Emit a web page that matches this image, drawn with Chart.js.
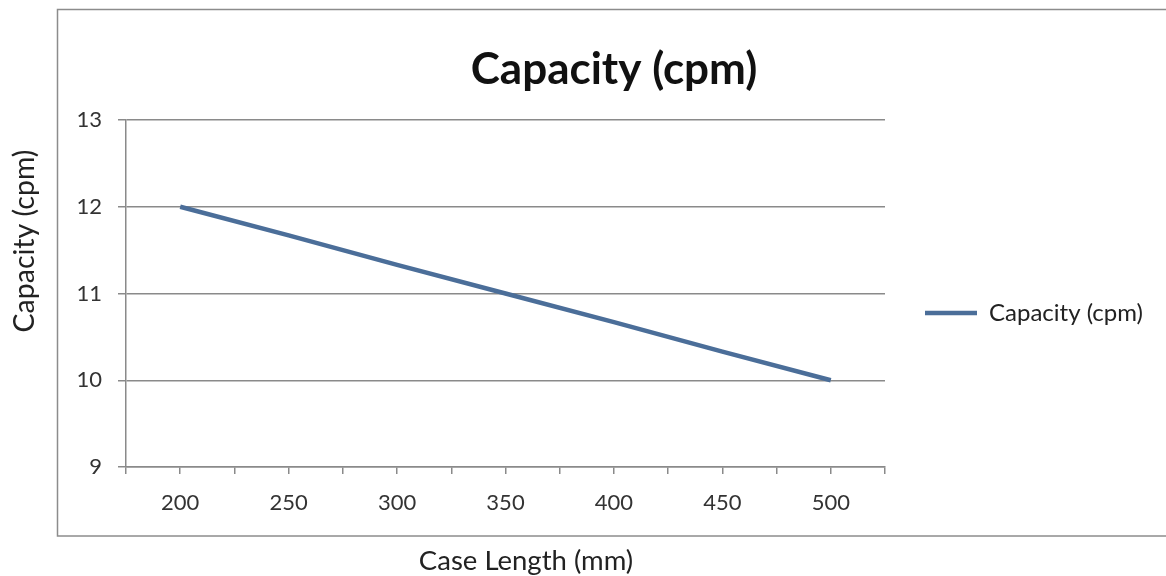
<!DOCTYPE html>
<html>
<head>
<meta charset="utf-8">
<script src="https://cdn.jsdelivr.net/npm/chart.js@4/dist/chart.umd.min.js"></script>
<style>
  html, body { margin: 0; padding: 0; background: #ffffff; }
  #wrap { position: relative; width: 1166px; height: 576px; }
</style>
</head>
<body>
<div id="wrap"><canvas id="c"></canvas></div>
<script>
// ---- data ----
const caseLengths = [200, 250, 300, 350, 400, 450, 500];
const capacity = [12, 11.67, 11.33, 11, 10.67, 10.33, 10];
const seriesName = 'Capacity (cpm)';
const chartTitle = 'Capacity (cpm)';
const xAxisTitle = 'Case Length (mm)';
const yAxisTitle = 'Capacity (cpm)';
const yTicks = [9, 10, 11, 12, 13];
const xLabelStep = 50;

const FONT = 'Lato, "Open Sans", sans-serif';
const GRID = '#8a8a8a';
const LINE = '#4b6e99';
const legendFontSize = 24;
const legendPad = 40;
const legendLineW = 52;

// measure legend text to place the plot's right edge
const mctx = document.createElement('canvas').getContext('2d');
mctx.font = legendFontSize + 'px ' + FONT;
const legendTextW = mctx.measureText(seriesName).width;
const legendW = legendPad + legendLineW + legendFontSize / 2 + legendTextW + 10;
const plotRight = 885;
const padRight = Math.max(0, 1166 - plotRight - legendW);

const framePlugin = {
  id: 'excelFrame',
  beforeDraw(chart) {
    const ctx = chart.ctx;
    ctx.save();
    ctx.fillStyle = '#ffffff';
    ctx.fillRect(0, 0, chart.width, chart.height);
    ctx.strokeStyle = '#8c8c8c';
    ctx.lineWidth = 1.5;
    ctx.strokeRect(57.5, 9.5, chart.width, 526.5);
    ctx.restore();
  },
  afterDraw(chart) {
    const ctx = chart.ctx;
    ctx.save();
    // main title
    ctx.fillStyle = '#111111';
    ctx.font = 'bold 44px ' + FONT;
    ctx.textAlign = 'center';
    ctx.textBaseline = 'alphabetic';
    ctx.fillText(chartTitle, 614, 84);
    // x axis title
    ctx.fillStyle = '#222222';
    ctx.font = '27.5px ' + FONT;
    ctx.fillText(xAxisTitle, 526, 570);
    // y axis title
    ctx.font = '28.5px ' + FONT;
    ctx.translate(34, 241);
    ctx.rotate(-Math.PI / 2);
    ctx.fillText(yAxisTitle, 0, 0);
    ctx.restore();
  }
};

new Chart(document.getElementById('c'), {
  type: 'line',
  data: {
    datasets: [{
      label: seriesName,
      data: caseLengths.map((x, i) => ({ x: x, y: capacity[i] })),
      borderColor: LINE,
      backgroundColor: LINE,
      borderWidth: 4.5,
      pointRadius: 0,
      pointStyle: 'line',
      tension: 0,
      fill: false
    }]
  },
  options: {
    responsive: true,
    maintainAspectRatio: false,
    animation: false,
    layout: { padding: { top: 120, left: 0, right: padRight, bottom: 0 } },
    plugins: {
      title: { display: false },
      tooltip: { enabled: false },
      legend: {
        display: true,
        position: 'right',
        fullSize: false,
        title: { display: true, text: '', font: { size: 10 }, padding: 13.5 },
        labels: {
          usePointStyle: true,
          pointStyle: 'line',
          pointStyleWidth: legendLineW,
          padding: legendPad,
          color: '#222222',
          font: { family: FONT, size: legendFontSize }
        }
      }
    },
    scales: {
      x: {
        type: 'linear',
        min: caseLengths[0] - xLabelStep / 2,
        max: caseLengths[caseLengths.length - 1] + xLabelStep / 2,
        afterFit(scale) { scale.height = 109; },
        ticks: {
          stepSize: xLabelStep / 2,
          autoSkip: false,
          maxRotation: 0,
          padding: 16,
          color: '#333333',
          font: { family: FONT, size: 22 },
          callback: (v) => (caseLengths.includes(v) ? String(v) : '')
        },
        grid: { drawOnChartArea: false, drawTicks: true, tickLength: 7, color: GRID, lineWidth: 1.5 },
        border: { display: true, color: GRID, width: 1.5 }
      },
      y: {
        min: yTicks[0],
        max: yTicks[yTicks.length - 1],
        afterFit(scale) { scale.width = 126; },
        ticks: {
          stepSize: 1,
          padding: 16,
          color: '#333333',
          font: { family: FONT, size: 22 }
        },
        grid: { drawOnChartArea: true, drawTicks: true, tickLength: 8, color: GRID, lineWidth: 1.5 },
        border: { display: true, color: GRID, width: 1.5 }
      }
    }
  },
  plugins: [framePlugin]
});
</script>
</body>
</html>
